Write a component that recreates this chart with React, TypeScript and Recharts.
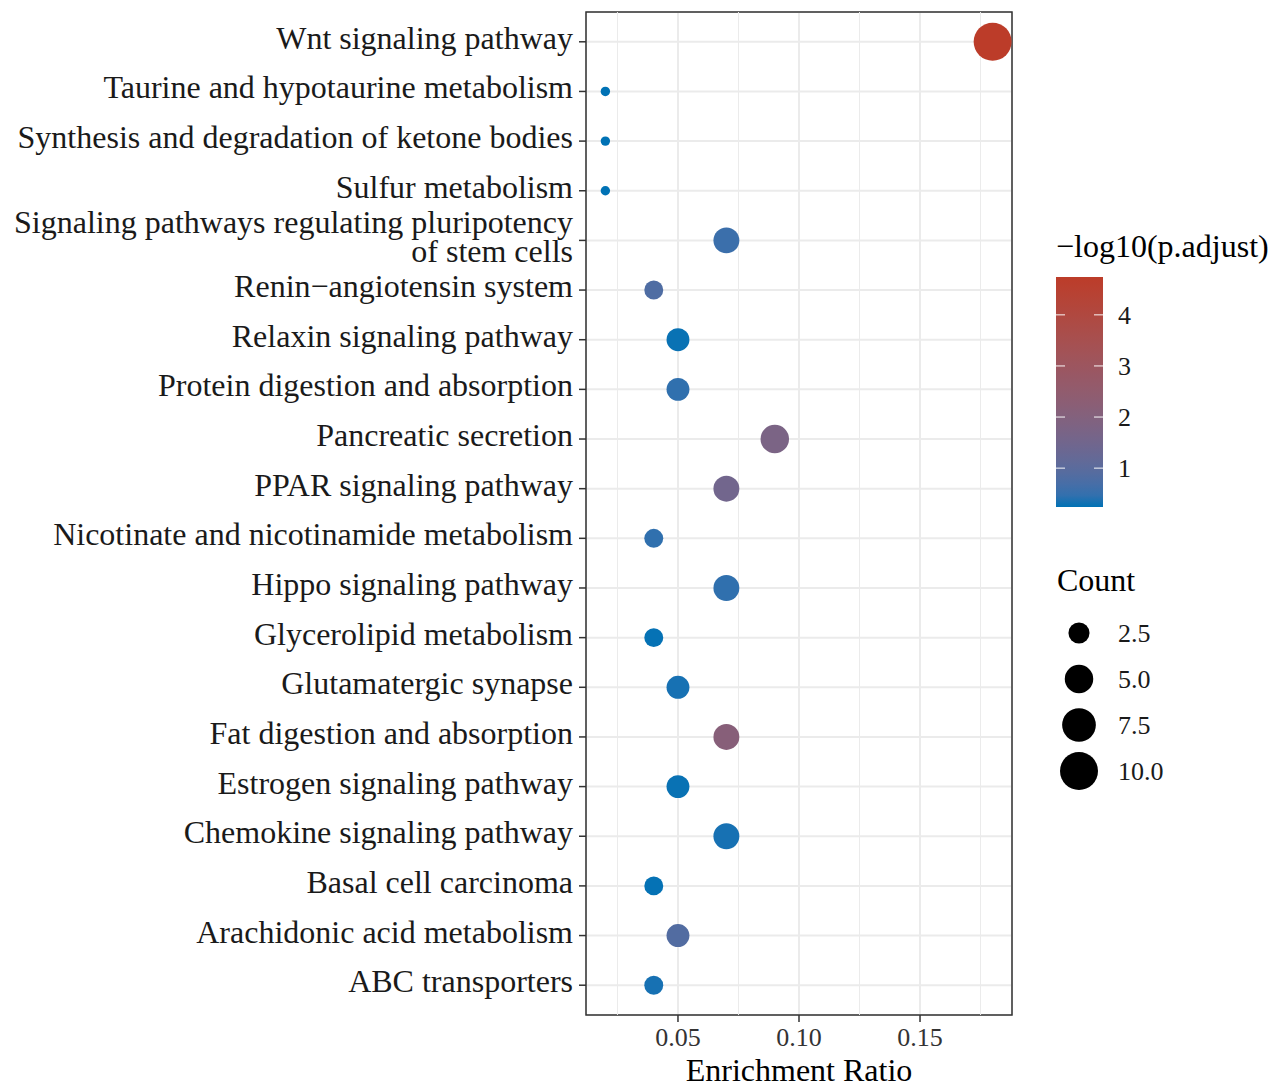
import React from 'react';
import { ScatterChart, Scatter, XAxis, YAxis, CartesianGrid, ReferenceLine, ReferenceArea } from 'recharts';

// top to bottom as drawn
const pathways = [
  'Wnt signaling pathway',
  'Taurine and hypotaurine metabolism',
  'Synthesis and degradation of ketone bodies',
  'Sulfur metabolism',
  'Signaling pathways regulating pluripotency\nof stem cells',
  'Renin\u2212angiotensin system',
  'Relaxin signaling pathway',
  'Protein digestion and absorption',
  'Pancreatic secretion',
  'PPAR signaling pathway',
  'Nicotinate and nicotinamide metabolism',
  'Hippo signaling pathway',
  'Glycerolipid metabolism',
  'Glutamatergic synapse',
  'Fat digestion and absorption',
  'Estrogen signaling pathway',
  'Chemokine signaling pathway',
  'Basal cell carcinoma',
  'Arachidonic acid metabolism',
  'ABC transporters',
];
const ratios = [0.18, 0.02, 0.02, 0.02, 0.07, 0.04, 0.05, 0.05, 0.09, 0.07, 0.04, 0.07, 0.04, 0.05, 0.07, 0.05, 0.07, 0.04, 0.05, 0.04];
const counts = [10, 1, 1, 1, 4, 2, 3, 3, 5, 4, 2, 4, 2, 3, 4, 3, 4, 2, 3, 2];
const padjLog = [4.74, 0.24, 0.24, 0.24, 0.55, 0.8, 0.26, 0.45, 1.75, 1.5, 0.45, 0.45, 0.25, 0.3, 2.15, 0.26, 0.3, 0.25, 0.85, 0.3];

const xTicks = [0.05, 0.1, 0.15];
const xMinor = [0.025, 0.075, 0.125, 0.175];
const colorTicks = [1, 2, 3, 4];
const sizeBreaks = [2.5, 5.0, 7.5, 10.0];

const LOW = '#0072B5';
const HIGH = '#BC3C29';
const FONT = '"Liberation Serif", "Times New Roman", serif';

// ---- colour: Lab interpolation like ggplot's gradient ----
const hexToRgb = (h: string) => [1, 3, 5].map((i) => parseInt(h.slice(i, i + 2), 16) / 255);
const toLin = (c: number) => (c <= 0.04045 ? c / 12.92 : Math.pow((c + 0.055) / 1.055, 2.4));
const fromLin = (c: number) => (c <= 0.0031308 ? 12.92 * c : 1.055 * Math.pow(c, 1 / 2.4) - 0.055);
const Xn = 0.95047, Yn = 1.0, Zn = 1.08883;
const f = (t: number) => (t > 216 / 24389 ? Math.cbrt(t) : (24389 / 27 * t + 16) / 116);
const fi = (t: number) => (t * t * t > 216 / 24389 ? t * t * t : (116 * t - 16) / (24389 / 27));

function rgbToLab(hex: string) {
  const [r, g, b] = hexToRgb(hex).map(toLin);
  const x = (0.4124 * r + 0.3576 * g + 0.1805 * b) / Xn;
  const y = (0.2126 * r + 0.7152 * g + 0.0722 * b) / Yn;
  const z = (0.0193 * r + 0.1192 * g + 0.9505 * b) / Zn;
  return [116 * f(y) - 16, 500 * (f(x) - f(y)), 200 * (f(y) - f(z))];
}
function labToHex([L, a, b]: number[]) {
  const fy = (L + 16) / 116;
  const x = fi(fy + a / 500) * Xn;
  const y = fi(fy) * Yn;
  const z = fi(fy - b / 200) * Zn;
  const r = 3.2406 * x - 1.5372 * y - 0.4986 * z;
  const g = -0.9689 * x + 1.8758 * y + 0.0415 * z;
  const bl = 0.0557 * x - 0.204 * y + 1.057 * z;
  return '#' + [r, g, bl].map((c) => {
    const v = Math.round(Math.min(1, Math.max(0, fromLin(c))) * 255);
    return v.toString(16).padStart(2, '0');
  }).join('');
}
const labLow = rgbToLab(LOW);
const labHigh = rgbToLab(HIGH);
const cMin = Math.min(...padjLog);
const cMax = Math.max(...padjLog);
const colorFor = (v: number) => {
  const t = (v - cMin) / (cMax - cMin);
  return labToHex(labLow.map((l, i) => l + (labHigh[i] - l) * t));
};

// ---- size: ggplot area palette ----
const nMin = Math.min(...counts);
const nMax = Math.max(...counts);
const radius = (n: number) => {
  const t = Math.max(0, (n - nMin) / (nMax - nMin));
  return (9.4 + (38 - 9.4) * Math.sqrt(t)) / 2;
};

const data = pathways.map((name, i) => ({
  name,
  y: pathways.length - i,
  ratio: ratios[i],
  count: counts[i],
  value: padjLog[i],
}));
const yTicks = data.map((d) => d.y);
const nameAt = (y: number) => pathways[pathways.length - y];

const PathwayTick = (props: any) => {
  const { x, y, payload } = props;
  const lines = nameAt(payload.value).split('\n');
  const lh = 29;
  const first = -((lines.length - 1) * lh) / 2 + 7;
  return (
    <text x={x} y={y} textAnchor="end" fill="#1a1a1a" fontSize={32} fontFamily={FONT}>
      {lines.map((l, i) => (
        <tspan key={i} x={x} dy={i === 0 ? first : lh}>{l}</tspan>
      ))}
    </text>
  );
};

const Dot = (props: any) => {
  const { cx, cy, payload } = props;
  return <circle cx={cx} cy={cy} r={radius(payload.count)} fill={colorFor(payload.value)} />;
};

const Legends = () => {
  const barX = 1056, barW = 47, barTop = 277, barBot = 507;
  const stops = Array.from({ length: 21 }, (_, i) => i / 20);
  const yOf = (v: number) => barBot - ((v - cMin) / (cMax - cMin)) * (barBot - barTop);
  const sizeY = [633, 679, 725, 771];
  return (
    <svg width={1276} height={1083} style={{ position: 'absolute', left: 0, top: 0, pointerEvents: 'none' }}>
      <defs>
        <linearGradient id="cbar" x1="0" y1="1" x2="0" y2="0">
          {stops.map((s) => (
            <stop key={s} offset={s} stopColor={colorFor(cMin + s * (cMax - cMin))} />
          ))}
        </linearGradient>
      </defs>
      <text x={1056} y={257} fontSize={32} fontFamily={FONT} fill="#000">{'\u2212log10(p.adjust)'}</text>
      <rect x={barX} y={barTop} width={barW} height={barBot - barTop} fill="url(#cbar)" />
      {colorTicks.map((v) => (
        <g key={v}>
          <line x1={barX} x2={barX + 9} y1={yOf(v)} y2={yOf(v)} stroke="#fff" strokeOpacity={0.8} strokeWidth={1.2} />
          <line x1={barX + barW - 9} x2={barX + barW} y1={yOf(v)} y2={yOf(v)} stroke="#fff" strokeOpacity={0.8} strokeWidth={1.2} />
          <text x={1118} y={yOf(v) + 9} fontSize={26} fontFamily={FONT} fill="#1a1a1a">{v}</text>
        </g>
      ))}
      <text x={1057} y={591} fontSize={32} fontFamily={FONT} fill="#000">Count</text>
      {sizeBreaks.map((b, i) => (
        <g key={b}>
          <circle cx={1079} cy={sizeY[i]} r={radius(b)} fill="#000" />
          <text x={1118} y={sizeY[i] + 9} fontSize={26} fontFamily={FONT} fill="#1a1a1a">{b.toFixed(1)}</text>
        </g>
      ))}
    </svg>
  );
};

export default function App() {
  return (
    <div style={{ position: 'absolute', left: 0, top: 0, width: 1276, height: 1083, background: '#fff' }}>
      <ScatterChart width={1276} height={1083} margin={{ top: 12, right: 264, bottom: 0, left: 0 }}>
        <CartesianGrid stroke="#EBEBEB" strokeWidth={2} />
        {xMinor.map((v) => (
          <ReferenceLine key={v} x={v} stroke="#EBEBEB" strokeWidth={1} />
        ))}
        <XAxis
          type="number"
          dataKey="ratio"
          domain={[0.012, 0.188]}
          ticks={xTicks}
          allowDataOverflow
          tickFormatter={(v: number) => v.toFixed(2)}
          axisLine={false}
          tickLine={{ stroke: '#333', strokeWidth: 1.5 }}
          tickSize={7}
          tickMargin={6}
          tick={{ fill: '#333', fontSize: 26, fontFamily: FONT }}
          height={68}
          label={{ value: 'Enrichment Ratio', position: 'insideBottom', offset: 2, fill: '#000', fontSize: 32, fontFamily: FONT }}
        />
        <YAxis
          type="number"
          dataKey="y"
          domain={[0.4, pathways.length + 0.6]}
          ticks={yTicks}
          interval={0}
          allowDataOverflow
          axisLine={false}
          tickLine={{ stroke: '#333', strokeWidth: 1.5 }}
          tickSize={7}
          tickMargin={6}
          width={586}
          tick={<PathwayTick />}
        />
        <Scatter data={data} shape={<Dot />} isAnimationActive={false} />
        <ReferenceArea x1={0.012} x2={0.188} y1={0.4} y2={pathways.length + 0.6} fill="none" stroke="#333" strokeWidth={1.5} ifOverflow="visible" />
      </ScatterChart>
      <Legends />
    </div>
  );
}
